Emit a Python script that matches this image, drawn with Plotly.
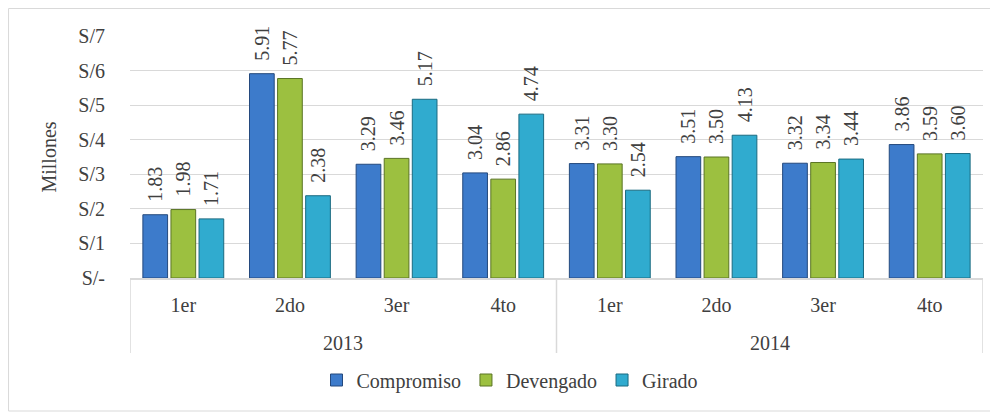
import plotly.graph_objects as go

years = ["2013", "2014"]
quarters = ["1er", "2do", "3er", "4to", "1er", "2do", "3er", "4to"]
compromiso = [1.83, 5.91, 3.29, 3.04, 3.31, 3.51, 3.32, 3.86]
devengado = [1.98, 5.77, 3.46, 2.86, 3.30, 3.50, 3.34, 3.59]
girado = [1.71, 2.38, 5.17, 4.74, 2.54, 4.13, 3.44, 3.60]
series_names = ["Compromiso", "Devengado", "Girado"]
series_colors = ["#3d7bcb", "#9cc040", "#30abcf"]
line_colors = ["#24497d", "#5a7424", "#1a6a80"]
y_ticks = [0, 1, 2, 3, 4, 5, 6, 7]
y_tick_text = ["S/-", "S/1", "S/2", "S/3", "S/4", "S/5", "S/6", "S/7"]

FONT = "Liberation Serif"
TXT = "#404040"
GRID = "#d9d9d9"
FS = 20

xpos = list(range(len(quarters)))
per_year = len(quarters) // len(years)

fig = go.Figure()
for name, vals, col, lc in zip(series_names, [compromiso, devengado, girado], series_colors, line_colors):
    fig.add_trace(go.Bar(
        x=xpos, y=vals, name=name,
        marker=dict(color=col, line=dict(color=lc, width=1)),
        text=["\u00a0\u00a0" + f"{v:.2f}" for v in vals], textposition="outside",
        textangle=-90, cliponaxis=False, constraintext="none",
        textfont=dict(family=FONT, size=FS, color=TXT),
    ))

annotations = []
shapes = []
for i, yr in enumerate(years):
    center = i * per_year + (per_year - 1) / 2
    annotations.append(dict(x=center, xref="x", y=-0.2686, yref="paper", text=yr,
                            showarrow=False, yanchor="middle",
                            font=dict(family=FONT, size=FS, color=TXT)))
for k in range(len(years) + 1):
    shapes.append(dict(type="line", xref="x", yref="paper", x0=k * per_year - 0.5,
                       x1=k * per_year - 0.5, y0=0, y1=-0.31,
                       line=dict(color=GRID, width=1.5)))
shapes.append(dict(type="rect", xref="paper", yref="paper", x0=-0.1424, x1=1.0094,
                   y0=-0.5496, y1=1.1136, line=dict(color=GRID, width=1)))

fig.update_layout(
    width=990, height=410,
    margin=dict(l=122, r=15, t=28, b=140),
    paper_bgcolor="white", plot_bgcolor="white",
    barmode="group", bargap=0.21, bargroupgap=0.12,
    font=dict(family=FONT, size=FS, color=TXT),
    showlegend=True,
    legend=dict(orientation="h", x=0.4455, xanchor="center", y=-0.4215, yanchor="middle",
                font=dict(family=FONT, size=FS, color=TXT), itemwidth=30,
                traceorder="normal"),
    xaxis=dict(range=[-0.5, len(quarters) - 0.5], tickvals=xpos, ticktext=quarters,
               showline=True, linecolor=GRID, linewidth=1.5, showgrid=False,
               zeroline=False, ticks="", ticklabelstandoff=8, automargin=False,
               tickfont=dict(family=FONT, size=FS, color=TXT)),
    yaxis=dict(range=[0, 7], tickvals=y_ticks, ticktext=y_tick_text, showgrid=True,
               gridcolor=GRID, gridwidth=1, zeroline=False, automargin=False,
               tickfont=dict(family=FONT, size=FS, color=TXT), ticklabelstandoff=24,
               title=dict(text="Millones", font=dict(family=FONT, size=FS, color=TXT), standoff=16)),
    annotations=annotations,
    shapes=shapes,
)
fig.write_html("out.html")
